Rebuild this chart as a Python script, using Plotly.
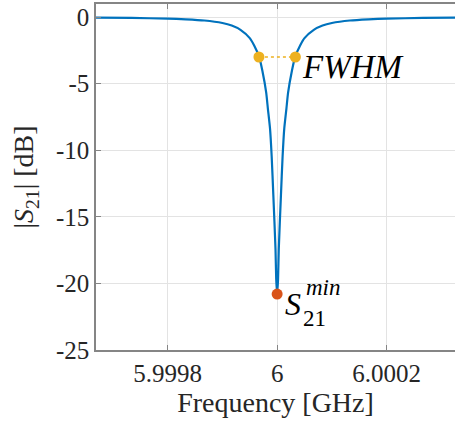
import plotly.graph_objects as go

# Resonance curve (GHz, dB)
freq_ghz = [5.999667, 5.999734, 5.999800, 5.999833, 5.999867, 5.999900, 5.999917,
            5.999933, 5.999950, 5.999958, 5.999967, 5.999973, 5.999980, 5.999983,
            5.999987, 5.999990, 5.999993, 5.999997, 5.9999983, 6.000000,
            6.0000017, 6.000003, 6.000007, 6.000010, 6.000013, 6.000017, 6.000020,
            6.000027, 6.000033, 6.000042, 6.000050, 6.000067, 6.000083, 6.000100,
            6.000133, 6.000167, 6.000200, 6.000266, 6.000333]
s21_db = [-0.043, -0.067, -0.118, -0.17, -0.26, -0.45, -0.64,
          -0.96, -1.58, -2.13, -2.97, -4.03, -5.67, -6.85,
          -8.38, -10.45, -13.33, -17.41, -19.67, -20.80,
          -19.67, -17.41, -13.33, -10.45, -8.38, -6.85, -5.67,
          -4.03, -2.97, -2.13, -1.58, -0.96, -0.64, -0.45,
          -0.26, -0.17, -0.118, -0.067, -0.043]

fwhm_f = [5.9999667, 6.0000333]
fwhm_db = [-3.0, -3.0]
min_f = [6.0]
min_db = [-20.8]

x_ticks = [5.9998, 6.0, 6.0002]
x_ticktext = ["5.9998", "6", "6.0002"]
y_ticks = [0, -5, -10, -15, -20, -25]
y_ticktext = ["0", "-5", "-10", "-15", "-20", "-25"]

font_family = "Liberation Serif"
axis_col = "#858585"
text_col = "#262626"

fig = go.Figure()
fig.add_trace(go.Scatter(x=freq_ghz, y=s21_db, mode="lines",
                         line=dict(color="#0072BD", width=2.2, shape="spline", smoothing=0.6),
                         showlegend=False, hoverinfo="skip"))
fig.add_trace(go.Scatter(x=fwhm_f, y=fwhm_db, mode="lines",
                         line=dict(color="#EDB120", width=1.5, dash="dot"),
                         showlegend=False))
fig.add_trace(go.Scatter(x=fwhm_f, y=fwhm_db, mode="markers",
                         marker=dict(color="#EDB120", size=11),
                         showlegend=False))
fig.add_trace(go.Scatter(x=min_f, y=min_db, mode="markers",
                         marker=dict(color="#D95319", size=11),
                         showlegend=False))

fig.add_annotation(x=fwhm_f[1], y=fwhm_db[1], text="<i>FWHM</i>", showarrow=False,
                   xanchor="left", yanchor="middle", xshift=5, yshift=-10,
                   font=dict(family=font_family, size=33, color="#000000"))
fig.add_annotation(x=min_f[0], y=min_db[0], text="<i>S</i>", showarrow=False,
                   xanchor="left", yanchor="middle", xshift=6, yshift=-10,
                   font=dict(family=font_family, size=32, color="#000000"))
fig.add_annotation(x=min_f[0], y=min_db[0], text="<i>min</i>", showarrow=False,
                   xanchor="left", yanchor="middle", xshift=27, yshift=7,
                   font=dict(family=font_family, size=23, color="#000000"))
fig.add_annotation(x=min_f[0], y=min_db[0], text="21", showarrow=False,
                   xanchor="left", yanchor="middle", xshift=24, yshift=-24,
                   font=dict(family=font_family, size=23, color="#000000"))

fig.update_layout(
    width=455, height=431,
    margin=dict(l=96, r=0, t=4, b=81),
    paper_bgcolor="white", plot_bgcolor="white",
    font=dict(family=font_family, color=text_col),
    xaxis=dict(range=[5.999669, 6.000325], tickvals=x_ticks, ticktext=x_ticktext,
               ticks="inside", ticklen=5, tickcolor=axis_col, showline=True,
               linecolor=axis_col, linewidth=1.5, mirror="ticks",
               showgrid=True, gridcolor="#e3e3e3", gridwidth=1, zeroline=False,
               tickfont=dict(family=font_family, size=25, color=text_col),
               title=dict(text="Frequency [GHz]", font=dict(family=font_family, size=28, color=text_col), standoff=6)),
    yaxis=dict(range=[-25, 0.98], tickvals=y_ticks, ticktext=y_ticktext,
               ticks="inside", ticklen=5, tickcolor=axis_col, showline=True,
               linecolor=axis_col, linewidth=1.5, mirror=False,
               showgrid=True, gridcolor="#e3e3e3", gridwidth=1, zeroline=False,
               tickfont=dict(family=font_family, size=25, color=text_col),
               title=dict(text="|<i>S</i><sub>21</sub>| [dB]", font=dict(family=font_family, size=28, color=text_col), standoff=14)),
)

fig.write_html("out.html")
